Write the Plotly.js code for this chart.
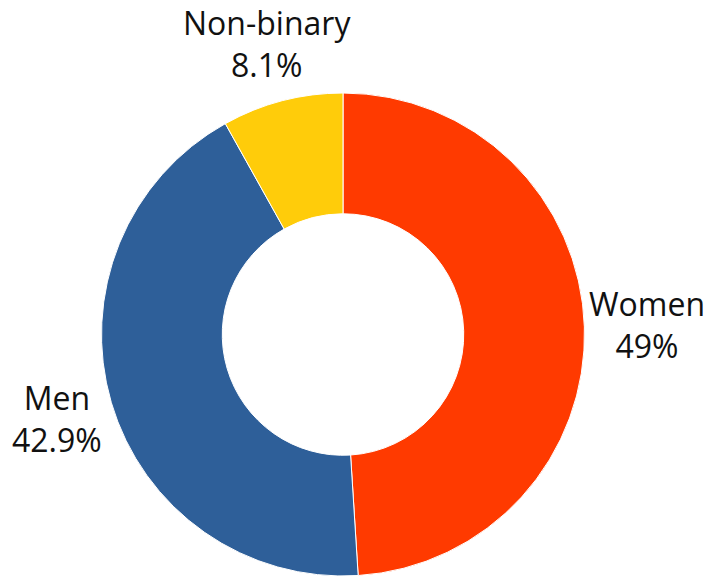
<!DOCTYPE html>
<html>
<head>
<meta charset="utf-8">
<script src="https://cdn.plot.ly/plotly-3.0.1.min.js"></script>
<style>html,body{margin:0;padding:0;background:#fff;}#chart{width:712px;height:576px;}</style>
</head>
<body>
<div id="chart"></div>
<script>
const categories = ["Women", "Men", "Non-binary"];
const shares = [49.0, 42.9, 8.1];
const colors = ["#FF3A00", "#2E5F99", "#FFCC0A"];

const W = 712, H = 576;
const domX = [0.1419, 0.8216], domY = [0, 0.8385];
const FONT = "Open Sans", FS = 32;

// pie geometry in pixels (margins are zero)
const cx = (domX[0] + domX[1]) / 2 * W;
const cy = H - (domY[0] + domY[1]) / 2 * H;
const R = Math.min((domX[1] - domX[0]) * W, (domY[1] - domY[0]) * H) / 2;

const ctx = document.createElement("canvas").getContext("2d");
ctx.font = FS + "px '" + FONT + "'";

const total = shares.reduce((a, b) => a + b, 0);
const fmt = v => (Math.round(v * 10) / 10).toString() + "%";

const annotations = [];
let cum = 0;
shares.forEach((v, i) => {
  const mid = (cum + v / 2) / total * 2 * Math.PI; // clockwise from top
  cum += v;
  const dx = Math.sin(mid), dy = -Math.cos(mid);
  const pct = fmt(v / total * 100);
  const w = Math.max(ctx.measureText(categories[i]).width, ctx.measureText(pct).width);
  const h = 70;
  const ext = Math.abs(dx) * w / 2 + Math.abs(dy) * h / 2;
  const D = R + 4 + ext;
  const px = cx + D * dx, py = cy + D * dy;
  annotations.push({
    xref: "paper", yref: "paper",
    x: px / W, y: 1 - py / H,
    xanchor: "center", yanchor: "middle",
    text: categories[i] + "<br>" + pct,
    showarrow: false,
    font: {family: FONT, size: FS, color: "#111111"}
  });
});

Plotly.newPlot("chart", [{
  type: "pie",
  labels: categories,
  values: shares,
  hole: 0.5,
  sort: false,
  direction: "clockwise",
  rotation: 0,
  domain: {x: domX, y: domY},
  textinfo: "none",
  marker: {colors: colors, line: {color: "#ffffff", width: 1}},
  showlegend: false,
  hoverinfo: "label+percent"
}], {
  width: W,
  height: H,
  margin: {l: 0, r: 0, t: 0, b: 0},
  paper_bgcolor: "#ffffff",
  showlegend: false,
  annotations: annotations
}, {displayModeBar: false});
</script>
</body>
</html>
